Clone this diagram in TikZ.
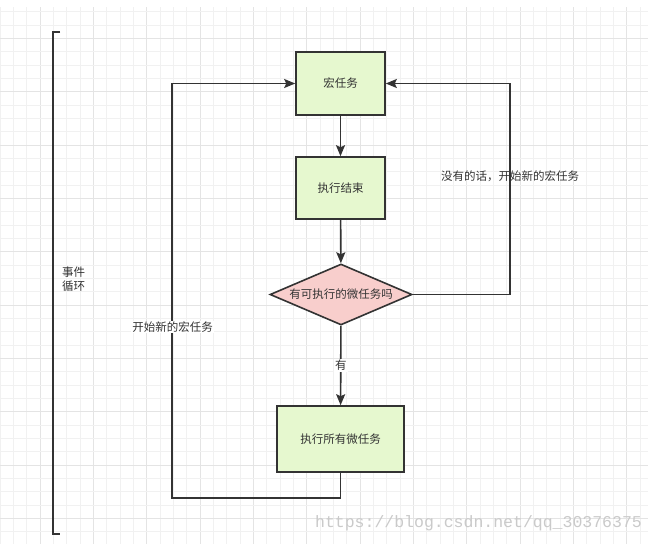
\documentclass[tikz,border=0pt]{standalone}
\usepackage{fontspec}
\newfontfamily\cjk{Noto Sans CJK SC}
\newfontfamily\wmfont{Liberation Mono}
\usetikzlibrary{shapes.geometric,arrows.meta}
\definecolor{gminor}{HTML}{F1F1F1}
\definecolor{gmajor}{HTML}{E4E4E4}
\definecolor{ink}{HTML}{333333}
\definecolor{boxgreen}{HTML}{E6F8CF}
\definecolor{diapink}{HTML}{F8CECC}
\definecolor{wmgrey}{HTML}{CACACA}
\tikzset{
  txt/.style={font=\cjk\fontsize{11.5}{14}\selectfont, text=ink},
  gbox/.style={draw=ink, line width=1.6pt, fill=boxgreen, inner sep=0pt, txt},
  dbox/.style={diamond, draw=ink, line width=1.6pt, fill=diapink, inner sep=0pt, shape aspect=2.33, minimum width=142pt, minimum height=61pt, txt},
  conn/.style={draw=ink, line width=1.6pt},
  arr/.style={conn, -{Stealth[length=11pt,width=9pt,inset=2pt]}},
  lbl/.style={txt, inner sep=1pt},
}
\begin{document}
\begin{tikzpicture}[x=1pt,y=-1pt]
\useasboundingbox (0,0) rectangle (655,544);
\fill[white] (0,0) rectangle (655,544);
% grid
\foreach \k in {0,...,48}{
  \pgfmathsetmacro\gx{13.333*\k}
  \pgfmathtruncatemacro\mj{mod(\k,4)==3}
  \ifnum\mj=1 \draw[gmajor,line width=0.8pt] (\gx,7) -- (\gx,544);
  \else \draw[gminor,line width=0.8pt] (\gx,7) -- (\gx,544); \fi
}
\foreach \k in {0,...,40}{
  \pgfmathsetmacro\gy{11.7+13.333*\k}
  \pgfmathtruncatemacro\mj{mod(\k,4)==2}
  \ifnum\mj=1 \draw[gmajor,line width=0.8pt] (0,\gy) -- (648,\gy);
  \else \draw[gminor,line width=0.8pt] (0,\gy) -- (648,\gy); \fi
}
% bracket
\coordinate (bt) at (60,32);
\coordinate (bb) at (60,534);
\draw[conn, line width=1.4pt] (bt) -- ++(-7,0) -- ++(0,502) -- (bb);
\node[txt, anchor=north west, align=left, inner sep=0pt] (loop) at (62,267) {事件\\循环};
% nodes
\node[gbox, minimum width=89pt, minimum height=63pt] (macro) at (340.5,83.5) {宏任务};
\node[gbox, minimum width=89pt, minimum height=62pt] (exec) at (340.5,188) {执行结束};
\node[dbox] (dia) at (341,294.5) {有可执行的微任务吗};
\node[gbox, minimum width=127pt, minimum height=66pt] (all) at (340.5,439) {执行所有微任务};
% connectors
\draw[arr] (macro) -- (exec);
\draw[arr] (exec) -- (dia);
\draw[arr] (dia) -- node[lbl, fill=white, pos=0.5] (yes) {有} (all);
\coordinate (lb) at (172,498);
\coordinate (rt) at (510,83.5);
\draw[arr] (all.south) |- (lb) |- (macro.west);
\draw[arr] (dia.east) -| (rt) -- (macro.east);
\node[lbl, fill=white] (newl) at (172.5,327) {开始新的宏任务};
\node[lbl] (newr) at (510,176) {没有的话，开始新的宏任务};
% watermark
\node[font=\wmfont\fontsize{16.5}{18}\selectfont, text=wmgrey, inner sep=0pt] (wm) at (478.5,523) {https://blog.csdn.net/qq\_30376375};
\end{tikzpicture}
\end{document}
